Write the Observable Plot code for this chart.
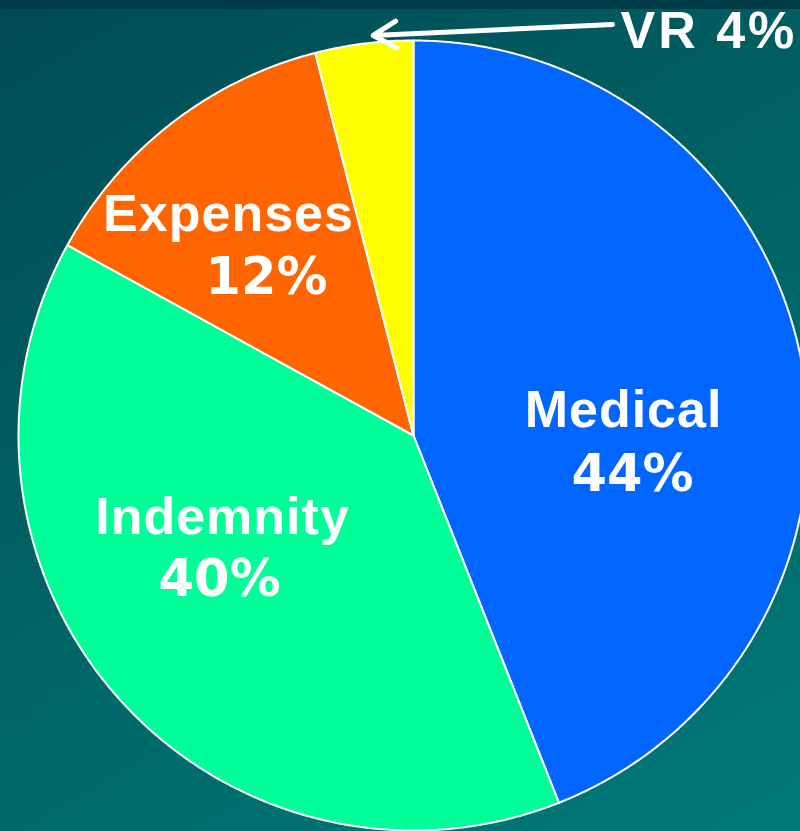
<!DOCTYPE html>
<html>
<head>
<meta charset="utf-8">
<script src="https://cdn.jsdelivr.net/npm/d3@7"></script>
<script src="https://cdn.jsdelivr.net/npm/@observablehq/plot@0.6"></script>
<style>
  html, body { margin: 0; padding: 0; }
  body {
    width: 800px; height: 831px; overflow: hidden;
    background:
      linear-gradient(to bottom, #003c48 0px, #003c48 9px, rgba(0,0,0,0) 9px),
      linear-gradient(150deg, #004a54 0%, #006464 50%, #007a7a 100%);
  }
  #chart svg { display: block; background: transparent; }
</style>
</head>
<body>
<div id="chart"></div>
<script>
// ---- data ----
const categories = ["Medical", "Indemnity", "Expenses", "VR"];
const shares = [44, 39, 13, 4];                      // slice sizes as drawn
const percentLabels = ["44%", "40%", "12%", "4%"];   // printed labels
const colors = ["#0066ff", "#00ff99", "#ff6600", "#ffff00"];

// ---- layout (pixels, relative to pie centre, y up) ----
const R = 395;
const labelLayout = [
  {name: [210, 9],    pct: [219, -55]},
  {name: [-191, -98], pct: [-194, -160]},
  {name: [-185, 205], pct: [-147, 142]},
  null
];

// ---- build slice polygons ----
const pie = d3.pie().sort(null).value(d => d.share)
  .startAngle(0).endAngle(2 * Math.PI);
const rows = categories.map((c, i) => ({name: c, share: shares[i], label: percentLabels[i]}));
const arcs = pie(rows);
const poly = [];
arcs.forEach(a => {
  const n = Math.max(2, Math.ceil((a.endAngle - a.startAngle) / (Math.PI / 360)));
  poly.push({name: a.data.name, x: 0, y: 0});
  for (let k = 0; k <= n; k++) {
    const t = a.startAngle + (a.endAngle - a.startAngle) * k / n;
    poly.push({name: a.data.name, x: R * Math.sin(t), y: R * Math.cos(t)});
  }
  poly.push({name: a.data.name, x: 0, y: 0});
});

const nameText = [], pctText = [];
rows.forEach((r, i) => {
  const L = labelLayout[i];
  if (!L) return;
  nameText.push({text: r.name, x: L.name[0], y: L.name[1]});
  pctText.push({text: r.label, x: L.pct[0], y: L.pct[1]});
});

// VR annotation: arrow to the small slice, label outside
const vr = arcs[3];
const tipAngle = vr.startAngle + 0.6 * (vr.endAngle - vr.startAngle);
const tip = {x: 1.018 * R * Math.sin(tipAngle), y: 1.018 * R * Math.cos(tipAngle)};
const vrLabel = [{text: rows[3].name + " " + rows[3].label, x: 207, y: 388}];
const arrowData = [{x1: vrLabel[0].x - 8, y1: vrLabel[0].y + 23, x2: tip.x, y2: tip.y}];

const chart = Plot.plot({
  width: 800,
  height: 831,
  margin: 0,
  x: {domain: [-413, 387], axis: null},
  y: {domain: [-396, 435], axis: null},
  color: {domain: categories, range: colors},
  style: {background: "transparent", overflow: "visible"},
  marks: [
    Plot.line(poly, {x: "x", y: "y", z: "name", fill: "name", stroke: "white", strokeWidth: 2, curve: "linear", strokeLinejoin: "round"}),
    Plot.text(nameText, {x: "x", y: "y", text: "text", fill: "white", fontSize: 52, fontWeight: "bold", fontFamily: "'Liberation Sans', Arial, sans-serif", textAnchor: "middle", lineAnchor: "bottom"}),
    Plot.text(pctText, {x: "x", y: "y", text: "text", fill: "white", fontSize: 51, fontWeight: "bold", fontFamily: "'DejaVu Sans', Verdana, sans-serif", textAnchor: "middle", lineAnchor: "bottom"}),
    Plot.arrow(arrowData, {x1: "x1", y1: "y1", x2: "x2", y2: "y2", stroke: "white", strokeWidth: 5, headLength: 8, headAngle: 60}),
    Plot.text(vrLabel, {x: "x", y: "y", text: "text", fill: "white", fontSize: 52, fontWeight: "bold", fontFamily: "'Liberation Sans', Arial, sans-serif", textAnchor: "start", lineAnchor: "bottom"})
  ]
});
// letter spacing: text marks are in order names, percents, vr label
const textGroups = d3.select(chart).selectAll('g[aria-label="text"]').nodes();
if (textGroups[0]) d3.select(textGroups[0]).attr("letter-spacing", "1px");
if (textGroups[2]) d3.select(textGroups[2]).attr("letter-spacing", "3px");
document.getElementById("chart").appendChild(chart);
</script>
</body>
</html>
